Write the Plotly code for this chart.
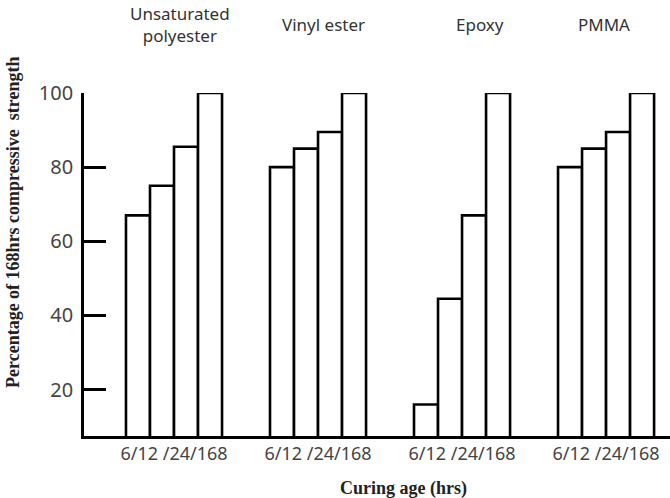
import plotly.graph_objects as go

materials = ["Unsaturated polyester", "Vinyl ester", "Epoxy", "PMMA"]
material_labels = ["Unsaturated<br>polyester", "Vinyl ester", "Epoxy", "PMMA"]
curing_ages = ["6", "12", "24", "168"]
# percentage of 168 hrs compressive strength, per curing age (rows) and material (cols)
values = {
    "6":   [67.0, 80.0, 16.0, 80.0],
    "12":  [75.0, 85.0, 44.5, 85.0],
    "24":  [85.5, 89.5, 67.0, 89.5],
    "168": [100.0, 100.0, 100.0, 100.0],
}
group_tick_text = "6/12 /24/168"
y_ticks = [20, 40, 60, 80, 100]
x_title = "<b>Curing age (hrs)</b>"
y_title = "<b>Percentage of 168hrs compressive  strength</b>"

W, H = 670, 498
ML, MR, MT, MB = 84, 0, 93, 62
PW, PH = W - ML - MR, H - MT - MB


def px_to_paper_x(px):
    return (px - ML) / PW


def px_to_paper_y(py):
    return 1 - (py - MT) / PH


fig = go.Figure()
for age in curing_ages:
    fig.add_trace(go.Bar(
        x=materials, y=values[age], name=age + " hrs",
        marker=dict(color="white", line=dict(color="black", width=2.6)),
        cliponaxis=False, showlegend=False,
    ))

label_shift = [6, 5, 18, -2]
for m, lab, dx in zip(materials, material_labels, label_shift):
    fig.add_annotation(x=m, xref="x", y=px_to_paper_y(25), yref="paper",
                       yanchor="middle", text=lab, showarrow=False, xshift=dx,
                       font=dict(family="Noto Sans", size=17, color="#333"))

fig.add_annotation(x=px_to_paper_x(403), xref="paper", y=px_to_paper_y(488),
                   yref="paper", xanchor="center", yanchor="middle",
                   text=x_title, showarrow=False,
                   font=dict(family="Liberation Serif", size=18, color="#222"))
fig.add_annotation(x=px_to_paper_x(13), xref="paper", y=px_to_paper_y(223),
                   yref="paper", xanchor="center", yanchor="middle",
                   text=y_title, showarrow=False, textangle=-90,
                   font=dict(family="Liberation Serif", size=18, color="#222"))

fig.update_layout(
    width=W, height=H,
    margin=dict(l=ML, r=MR, t=MT, b=MB),
    paper_bgcolor="white", plot_bgcolor="white",
    barmode="group", bargap=0.333, bargroupgap=0,
    xaxis=dict(
        range=[-0.625, 3.444], showgrid=False, zeroline=False,
        showline=True, linecolor="black", linewidth=2.6,
        tickmode="array", tickvals=materials, ticktext=[group_tick_text] * 4,
        ticks="", tickfont=dict(family="Noto Sans", size=18, color="#444"),
    ),
    yaxis=dict(
        range=[7.5, 100], showgrid=False, zeroline=False,
        showline=True, linecolor="black", linewidth=2.6,
        tickmode="array", tickvals=y_ticks,
        ticks="inside", ticklen=22, tickwidth=2.6, tickcolor="black",
        ticklabelstandoff=4,
        tickfont=dict(family="Noto Sans", size=20, color="#444"),
    ),
)

fig.write_html("out.html")
